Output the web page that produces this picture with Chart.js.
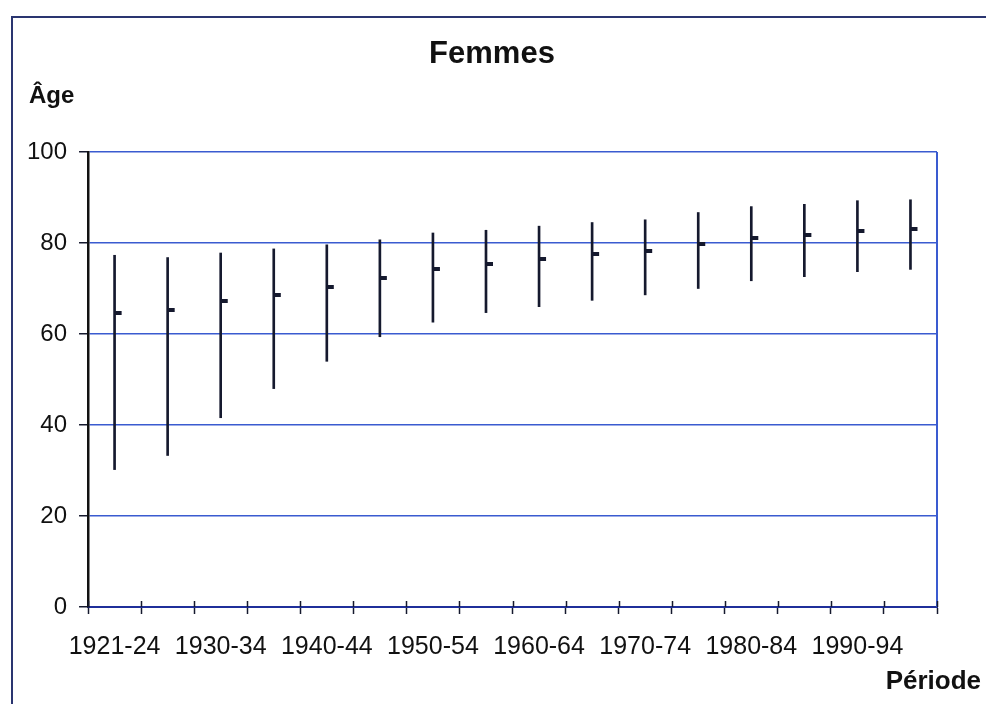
<!DOCTYPE html>
<html>
<head>
<meta charset="utf-8">
<script src="https://cdn.jsdelivr.net/npm/chart.js@4/dist/chart.umd.min.js"></script>
<style>
  body { margin: 0; background: #fff; }
  canvas { display: block; }
</style>
</head>
<body>
<canvas id="chart" width="986" height="704"></canvas>
<script>
// periods (5-year groups), only every other one is labelled on the axis
const periods = ['1921-24', '1925-29', '1930-34', '1935-39', '1940-44', '1945-49', '1950-54', '1955-59',
                 '1960-64', '1965-69', '1970-74', '1975-79', '1980-84', '1985-89', '1990-94', '1995-99'];
const lows  = [30.2, 33.3, 41.6, 48.0, 54.0, 59.4, 62.6, 64.7, 66.0, 67.4, 68.6, 70.0, 71.7, 72.6, 73.7, 74.2];
const highs = [77.3, 76.8, 77.8, 78.7, 79.6, 80.7, 82.2, 82.8, 83.7, 84.5, 85.1, 86.7, 88.0, 88.5, 89.3, 89.5];
const means = [64.7, 65.3, 67.2, 68.6, 70.3, 72.3, 74.2, 75.3, 76.5, 77.5, 78.3, 79.8, 81.1, 81.7, 82.6, 83.0];
const yTicks = [0, 20, 40, 60, 80, 100];

const FONT = "'Liberation Sans', Arial, sans-serif";
const BLUE = '#3a5bd0';
const INK = '#15192e';

// little dash to the right of each vertical line
const dash = document.createElement('canvas');
dash.width = 16; dash.height = 4;
const dctx = dash.getContext('2d');
dctx.fillStyle = INK;
dctx.fillRect(8, 0, 7, 4);

const frame = {
  id: 'frame',
  afterDraw(chart) {
    const { ctx, chartArea: a } = chart;
    ctx.save();
    // right border of the plot
    ctx.strokeStyle = BLUE;
    ctx.lineWidth = 2;
    ctx.beginPath();
    ctx.moveTo(a.right, a.top);
    ctx.lineTo(a.right, a.bottom);
    ctx.stroke();
    // tick marks also poke above the x axis
    ctx.strokeStyle = INK;
    ctx.lineWidth = 1.5;
    ctx.beginPath();
    for (let i = 0; i <= periods.length; i++) {
      const px = Math.round(a.left + (a.right - a.left) * i / periods.length) + 0.5;
      ctx.moveTo(px, a.bottom - 6);
      ctx.lineTo(px, a.bottom);
    }
    ctx.stroke();
    // outer frame of the scanned figure
    ctx.strokeStyle = '#2a3570';
    ctx.lineWidth = 2;
    ctx.beginPath();
    ctx.moveTo(12, 704);
    ctx.lineTo(12, 17);
    ctx.lineTo(986, 17);
    ctx.stroke();
    // title and axis titles
    ctx.fillStyle = '#111';
    ctx.textBaseline = 'alphabetic';
    ctx.textAlign = 'center';
    ctx.font = 'bold 31px ' + FONT;
    ctx.fillText('Femmes', 492, 63);
    ctx.textAlign = 'left';
    ctx.font = 'bold 24px ' + FONT;
    ctx.fillText('Âge', 29, 103);
    ctx.textAlign = 'right';
    ctx.font = 'bold 26px ' + FONT;
    ctx.fillText('Période', 981, 689);
    ctx.restore();
  }
};

new Chart(document.getElementById('chart'), {
  data: {
    labels: periods,
    datasets: [
      {
        type: 'bar',
        data: periods.map((p, i) => [lows[i], highs[i]]),
        backgroundColor: INK,
        barThickness: 2,
        order: 2
      },
      {
        type: 'line',
        data: means,
        showLine: false,
        pointStyle: dash,
        pointRadius: 4,
        order: 1
      }
    ]
  },
  options: {
    responsive: false,
    animation: false,
    layout: { padding: { left: 15, right: 49, top: 152, bottom: 24 } },
    plugins: {
      legend: { display: false },
      tooltip: { enabled: false },
      title: { display: false }
    },
    scales: {
      x: {
        offset: true,
        grid: { display: true, drawOnChartArea: false, offset: true, tickLength: 7, tickColor: INK, tickWidth: 1.5 },
        border: { color: '#1f2f9a', width: 2 },
        ticks: {
          autoSkip: false,
          maxRotation: 0,
          padding: 18,
          color: '#111',
          font: { family: FONT, size: 25 },
          callback: (v, i) => (i % 2 === 0 ? periods[i] : '')
        }
      },
      y: {
        min: 0,
        max: 100,
        afterBuildTicks: s => { s.ticks = yTicks.map(v => ({ value: v })); },
        grid: { color: BLUE, lineWidth: 1.5, tickLength: 9, tickColor: INK },
        border: { color: '#111', width: 2.5 },
        ticks: {
          padding: 12,
          color: '#111',
          font: { family: FONT, size: 24 }
        }
      }
    }
  },
  plugins: [frame]
});
</script>
</body>
</html>
